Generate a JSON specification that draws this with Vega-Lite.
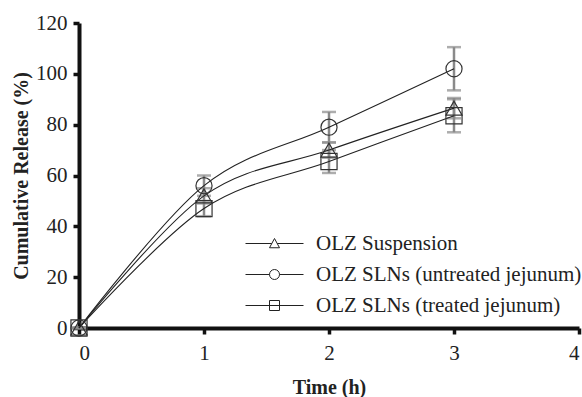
{
  "$schema": "https://vega.github.io/schema/vega-lite/v6.json",
  "width": 500,
  "height": 305,
  "autosize": {"type": "none"},
  "padding": {"left": 79, "top": 23, "right": 3, "bottom": 69},
  "background": "white",
  "config": {
    "view": {"stroke": null},
    "font": "Liberation Serif",
    "axis": {
      "grid": false,
      "domainColor": "#111",
      "domainWidth": 4,
      "tickColor": "#111",
      "tickWidth": 3.5,
      "tickSize": 6,
      "labelFont": "Liberation Serif",
      "labelFontSize": 21,
      "labelColor": "#222",
      "titleFont": "Liberation Serif",
      "titleFontSize": 20,
      "titleFontWeight": "bold",
      "titleColor": "#222"
    },
    "legend": {
      "labelFont": "Liberation Serif",
      "labelFontSize": 21,
      "labelColor": "#222",
      "labelLimit": 400
    }
  },
  "data": {
    "values": [
      {"t": 0, "v": 0, "e": 0, "s": "OLZ Suspension"},
      {"t": 1, "v": 52, "e": 3, "s": "OLZ Suspension"},
      {"t": 2, "v": 70, "e": 3, "s": "OLZ Suspension"},
      {"t": 3, "v": 86.5, "e": 4, "s": "OLZ Suspension"},
      {"t": 0, "v": 0, "e": 0, "s": "OLZ SLNs (untreated jejunum)"},
      {"t": 1, "v": 56, "e": 4, "s": "OLZ SLNs (untreated jejunum)"},
      {"t": 2, "v": 79, "e": 6, "s": "OLZ SLNs (untreated jejunum)"},
      {"t": 3, "v": 102, "e": 8.5, "s": "OLZ SLNs (untreated jejunum)"},
      {"t": 0, "v": 0, "e": 0, "s": "OLZ SLNs (treated jejunum)"},
      {"t": 1, "v": 47, "e": 3, "s": "OLZ SLNs (treated jejunum)"},
      {"t": 2, "v": 65.5, "e": 4.5, "s": "OLZ SLNs (treated jejunum)"},
      {"t": 3, "v": 83.5, "e": 6.5, "s": "OLZ SLNs (treated jejunum)"}
    ]
  },
  "layer": [
    {
      "mark": {
        "type": "errorbar",
        "ticks": {"size": 14, "thickness": 2.5, "color": "#8a8a8a"},
        "rule": {"strokeWidth": 2.5, "color": "#8a8a8a"}
      },
      "encoding": {
        "x": {"field": "t", "type": "quantitative", "scale": {"domain": [0, 4]},
              "axis": {"values": [0, 1, 2, 3, 4], "title": "Time (h)", "labelPadding": 8, "titlePadding": 14, "format": "d"}},
        "y": {"field": "v", "type": "quantitative", "scale": {"domain": [0, 120]},
              "axis": {"values": [0, 20, 40, 60, 80, 100, 120], "title": "Cumulative Release (%)", "labelPadding": 6, "titlePadding": 4}},
        "yError": {"field": "e"},
        "detail": {"field": "s"}
      }
    },
    {
      "mark": {"type": "line", "interpolate": "cardinal", "color": "#222", "strokeWidth": 1.1},
      "encoding": {
        "x": {"field": "t", "type": "quantitative"},
        "y": {"field": "v", "type": "quantitative"},
        "detail": {"field": "s"}
      }
    },
    {
      "mark": {"type": "point", "filled": false, "color": "#333", "strokeWidth": 1.2, "size": 260, "opacity": 1},
      "encoding": {
        "x": {"field": "t", "type": "quantitative"},
        "y": {"field": "v", "type": "quantitative"},
        "shape": {
          "field": "s", "type": "nominal",
          "scale": {"domain": ["OLZ Suspension", "OLZ SLNs (untreated jejunum)", "OLZ SLNs (treated jejunum)"],
                    "range": ["triangle-up", "circle", "square"]},
          "legend": null
        }
      }
    },
    {
      "transform": [{"filter": "false"}],
      "mark": {"type": "point", "filled": false, "color": "#222", "strokeWidth": 1, "opacity": 1},
      "encoding": {
        "x": {"field": "t", "type": "quantitative"},
        "y": {"field": "v", "type": "quantitative"},
        "shape": {
          "field": "s", "type": "nominal",
          "scale": {"domain": ["OLZ Suspension", "OLZ SLNs (untreated jejunum)", "OLZ SLNs (treated jejunum)"],
                    "range": [
                      "M-5.8,0H-0.55M0.55,0H5.8M0,-1L1,0.85L-1,0.85Z",
                      "M-5.8,0H-1M1,0H5.8M-1,0A1,1 0 1,0 1,0A1,1 0 1,0 -1,0Z",
                      "M-5.8,0H5.8M-1,-1H1V1H-1Z"
                    ]},
          "legend": {
            "title": null,
            "orient": "none",
            "legendX": 185,
            "legendY": 210,
            "padding": 0,
            "symbolSize": 100,
            "symbolStrokeWidth": 1,
            "symbolStrokeColor": "#222",
            "symbolFillColor": "transparent",
            "symbolOpacity": 1,
            "labelOffset": 31,
            "rowPadding": 9
          }
        }
      }
    }
  ],
  "resolve": {"scale": {"shape": "independent"}}
}
